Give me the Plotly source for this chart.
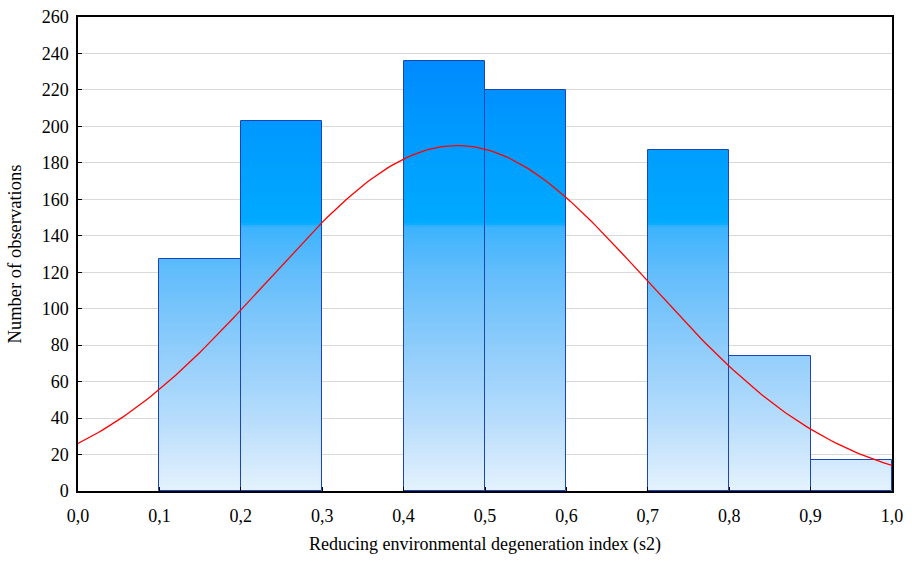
import plotly.graph_objects as go
import math

# --- data ---
bin_edges = [0.0, 0.1, 0.2, 0.3, 0.4, 0.5, 0.6, 0.7, 0.8, 0.9, 1.0]
counts = [0, 127, 203, 0, 236, 220, 0, 187, 74, 17]
x_tick_vals = [0.0, 0.1, 0.2, 0.3, 0.4, 0.5, 0.6, 0.7, 0.8, 0.9, 1.0]
x_tick_text = ["0,0", "0,1", "0,2", "0,3", "0,4", "0,5", "0,6", "0,7", "0,8", "0,9", "1,0"]
y_tick_vals = list(range(0, 261, 20))
# fitted normal curve parameters
norm_mean = 0.466
norm_sd = 0.234
norm_peak = 189.5

y_max = 260
y_edges = list(range(0, y_max + 1))
y_centers = [v + 0.5 for v in range(0, y_max)]
z = []
for yc in y_centers:
    row = []
    for c in counts:
        row.append(yc if (c > 0 and yc < c) else None)
    z.append(row)

colorscale = [
    [0.0, "#e4f2fd"],
    [40 / 260, "#b6dcfc"],
    [80 / 260, "#8dccfb"],
    [120 / 260, "#62bdfb"],
    [145 / 260, "#3cb3fe"],
    [147 / 260, "#00aaff"],
    [200 / 260, "#0099ff"],
    [1.0, "#0080ff"],
]

fig = go.Figure()
fig.add_trace(go.Heatmap(
    x=bin_edges, y=y_edges, z=z, zmin=0, zmax=y_max,
    colorscale=colorscale, showscale=False, hoverinfo="skip",
))

centers = [(bin_edges[i] + bin_edges[i + 1]) / 2 for i in range(len(counts))]
fig.add_trace(go.Bar(
    x=centers, y=[c if c > 0 else None for c in counts], width=0.1,
    marker=dict(color="rgba(0,0,0,0)", line=dict(color="#1c46b8", width=1)),
    showlegend=False,
))

n_pts = 201
xs = [i / (n_pts - 1) for i in range(n_pts)]
ys = [norm_peak * math.exp(-((x - norm_mean) ** 2) / (2 * norm_sd ** 2)) for x in xs]
fig.add_trace(go.Scatter(x=xs, y=ys, mode="lines",
                         line=dict(color="#ff0000", width=1.3), showlegend=False))

ff = "Liberation Serif"
fig.update_layout(
    width=912, height=562,
    margin=dict(l=78, r=20, t=17, b=71),
    plot_bgcolor="white", paper_bgcolor="white",
    font=dict(family=ff, color="black", size=18),
    showlegend=False,
    bargap=0,
)
fig.update_xaxes(
    range=[0, 1], tickvals=x_tick_vals, ticktext=x_tick_text,
    showgrid=False, zeroline=False, automargin=False,
    showline=True, linecolor="black", linewidth=1.5, mirror=True,
    ticks="inside", ticklen=4, tickcolor="black", ticklabelstandoff=8,
    tickfont=dict(family=ff, size=18, color="black"),
    title=dict(text="Reducing environmental degeneration index (s2)",
               font=dict(family=ff, size=18, color="black"), standoff=12),
)
fig.update_yaxes(
    range=[0, y_max], tickvals=y_tick_vals,
    showgrid=True, gridcolor="#d9d9d9", gridwidth=1, zeroline=False, automargin=False,
    showline=True, linecolor="black", linewidth=1.5, mirror=True,
    ticks="inside", ticklen=4, tickcolor="black", ticklabelstandoff=4,
    tickfont=dict(family=ff, size=18, color="black"),
    title=dict(text="Number of observations", font=dict(family=ff, size=18.5, color="black")),
)

fig.write_html("out.html", config={"displayModeBar": False},
               post_script="document.body.style.margin='0';")
